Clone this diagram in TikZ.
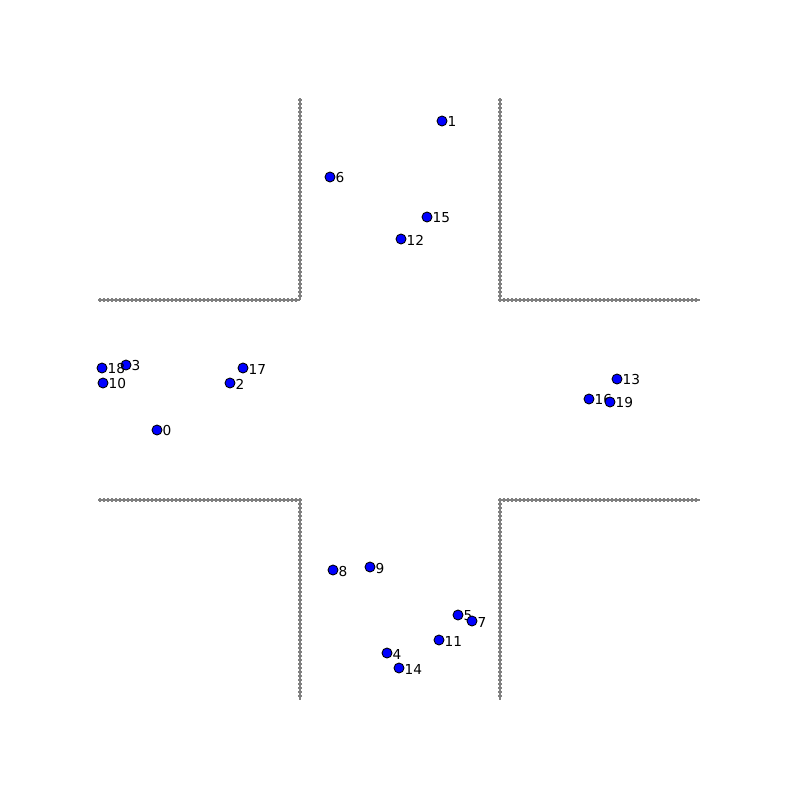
\documentclass[tikz,border=0pt]{standalone}
\usepackage{fontspec}
\setmainfont{DejaVu Sans}
\usetikzlibrary{decorations.markings}
\begin{document}
\begin{tikzpicture}[x=0.01cm,y=-0.01cm,
  wall/.style={draw=gray, line width=0.6pt, postaction={decorate},
    decoration={markings, mark=between positions 0 and 1 step 0.04cm with {
      \fill[gray] (-0.68pt,-0.26pt) rectangle (0.68pt,0.26pt);
      \fill[gray] (-0.26pt,-0.68pt) rectangle (0.26pt,0.68pt);}}},
  pt/.style={circle, fill=blue, draw=black, line width=0.25pt, inner sep=0pt, minimum size=0.1cm},
  lab/.style={anchor=west, inner sep=0pt, font=\fontsize{3.9}{4}\selectfont}]
\useasboundingbox[fill=white] (0,0) rectangle (800,800);
\coordinate (tl1) at (300,100); \coordinate (tl2) at (300,300); \coordinate (tl3) at (100,300);
\coordinate (tr1) at (500,100); \coordinate (tr2) at (500,300); \coordinate (tr3) at (700,300);
\coordinate (bl1) at (100,500); \coordinate (bl2) at (300,500); \coordinate (bl3) at (300,700);
\coordinate (br1) at (500,700); \coordinate (br2) at (500,500); \coordinate (br3) at (700,500);
\draw[wall] (tl1) -- (tl2);
\draw[wall] (tl3) -- (tl2);
\draw[wall] (tr1) -- (tr2);
\draw[wall] (tr2) -- (tr3);
\draw[wall] (bl1) -- (bl2);
\draw[wall] (bl2) -- (bl3);
\draw[wall] (br2) -- (br1);
\draw[wall] (br2) -- (br3);
\foreach \n/\x/\y in {0/157/430, 1/442/121, 2/230/383, 3/126/365, 4/387/653,
  5/458/615, 6/330/177, 7/472/621, 8/333/570, 9/370/567, 10/103/383,
  11/439/640, 12/401/239, 13/617/379, 14/399/668, 15/427/217, 16/589/399,
  17/243/368, 18/102/368, 19/610/402} {
  \node[pt] (p\n) at (\x,\y) {};
  \node[lab] (l\n) at (\x+5,\y+1) {\n};
}
\end{tikzpicture}
\end{document}
